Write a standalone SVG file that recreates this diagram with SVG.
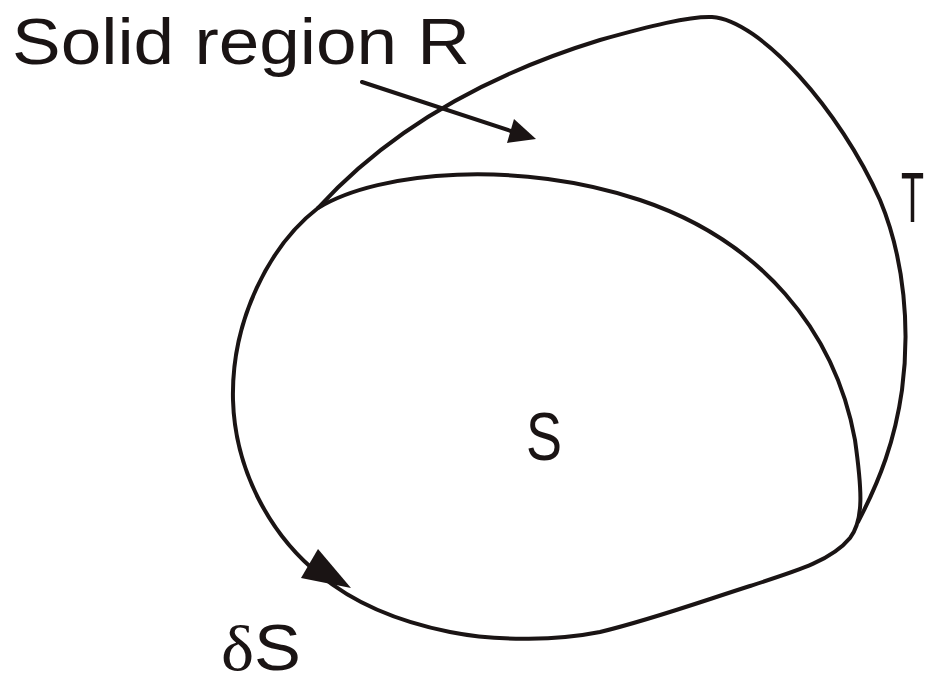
<svg xmlns="http://www.w3.org/2000/svg" width="925" height="679" viewBox="0 0 925 679">
<style>
.c{fill:none;stroke:#1a1414;stroke-width:4;stroke-linecap:round}
.t{font-family:"Liberation Sans",Arial,sans-serif;fill:#1a1414}
.ah{fill:#1a1414}
</style>
<rect width="925" height="679" fill="#fff"/>
<g id="connectors">
<path class="c" d="M318,208 C380,140 470,80 600,40 C650,26 690,16 712,17 C760,20 840,110 880,200 C905,260 910,330 902,390 C895,440 880,480 858,522"/>
<path class="c" d="M318,208 C380,170 520,160 640,200 C760,240 835,330 855,440 C862,490 864,520 850,538 C832,560 800,570 750,586 C700,602 650,620 600,632 C560,640 500,642 450,632 C390,620 350,600 320,575 C270,535 235,470 233,400 C231,320 270,245 318,208 Z"/>
<path class="c" d="M362,82 L520,134"/>
<polygon class="ah" points="536,139 507,143 514,119"/>
<polygon class="ah" points="351,588 301,578 318,549"/>
</g>
<g id="label-R"><text class="t" x="12" y="64" font-size="64" textLength="458" lengthAdjust="spacingAndGlyphs">Solid region R</text></g>
<g id="label-T"><text class="t" x="901" y="222" font-size="70" textLength="23" lengthAdjust="spacingAndGlyphs">T</text></g>
<g id="label-S"><text class="t" x="526" y="460" font-size="68" textLength="36" lengthAdjust="spacingAndGlyphs">S</text></g>
<g id="label-dS"><text class="t" x="221" y="670" font-size="64" textLength="80" lengthAdjust="spacingAndGlyphs"><tspan font-family="Liberation Serif,serif">δ</tspan>S</text></g>
</svg>
